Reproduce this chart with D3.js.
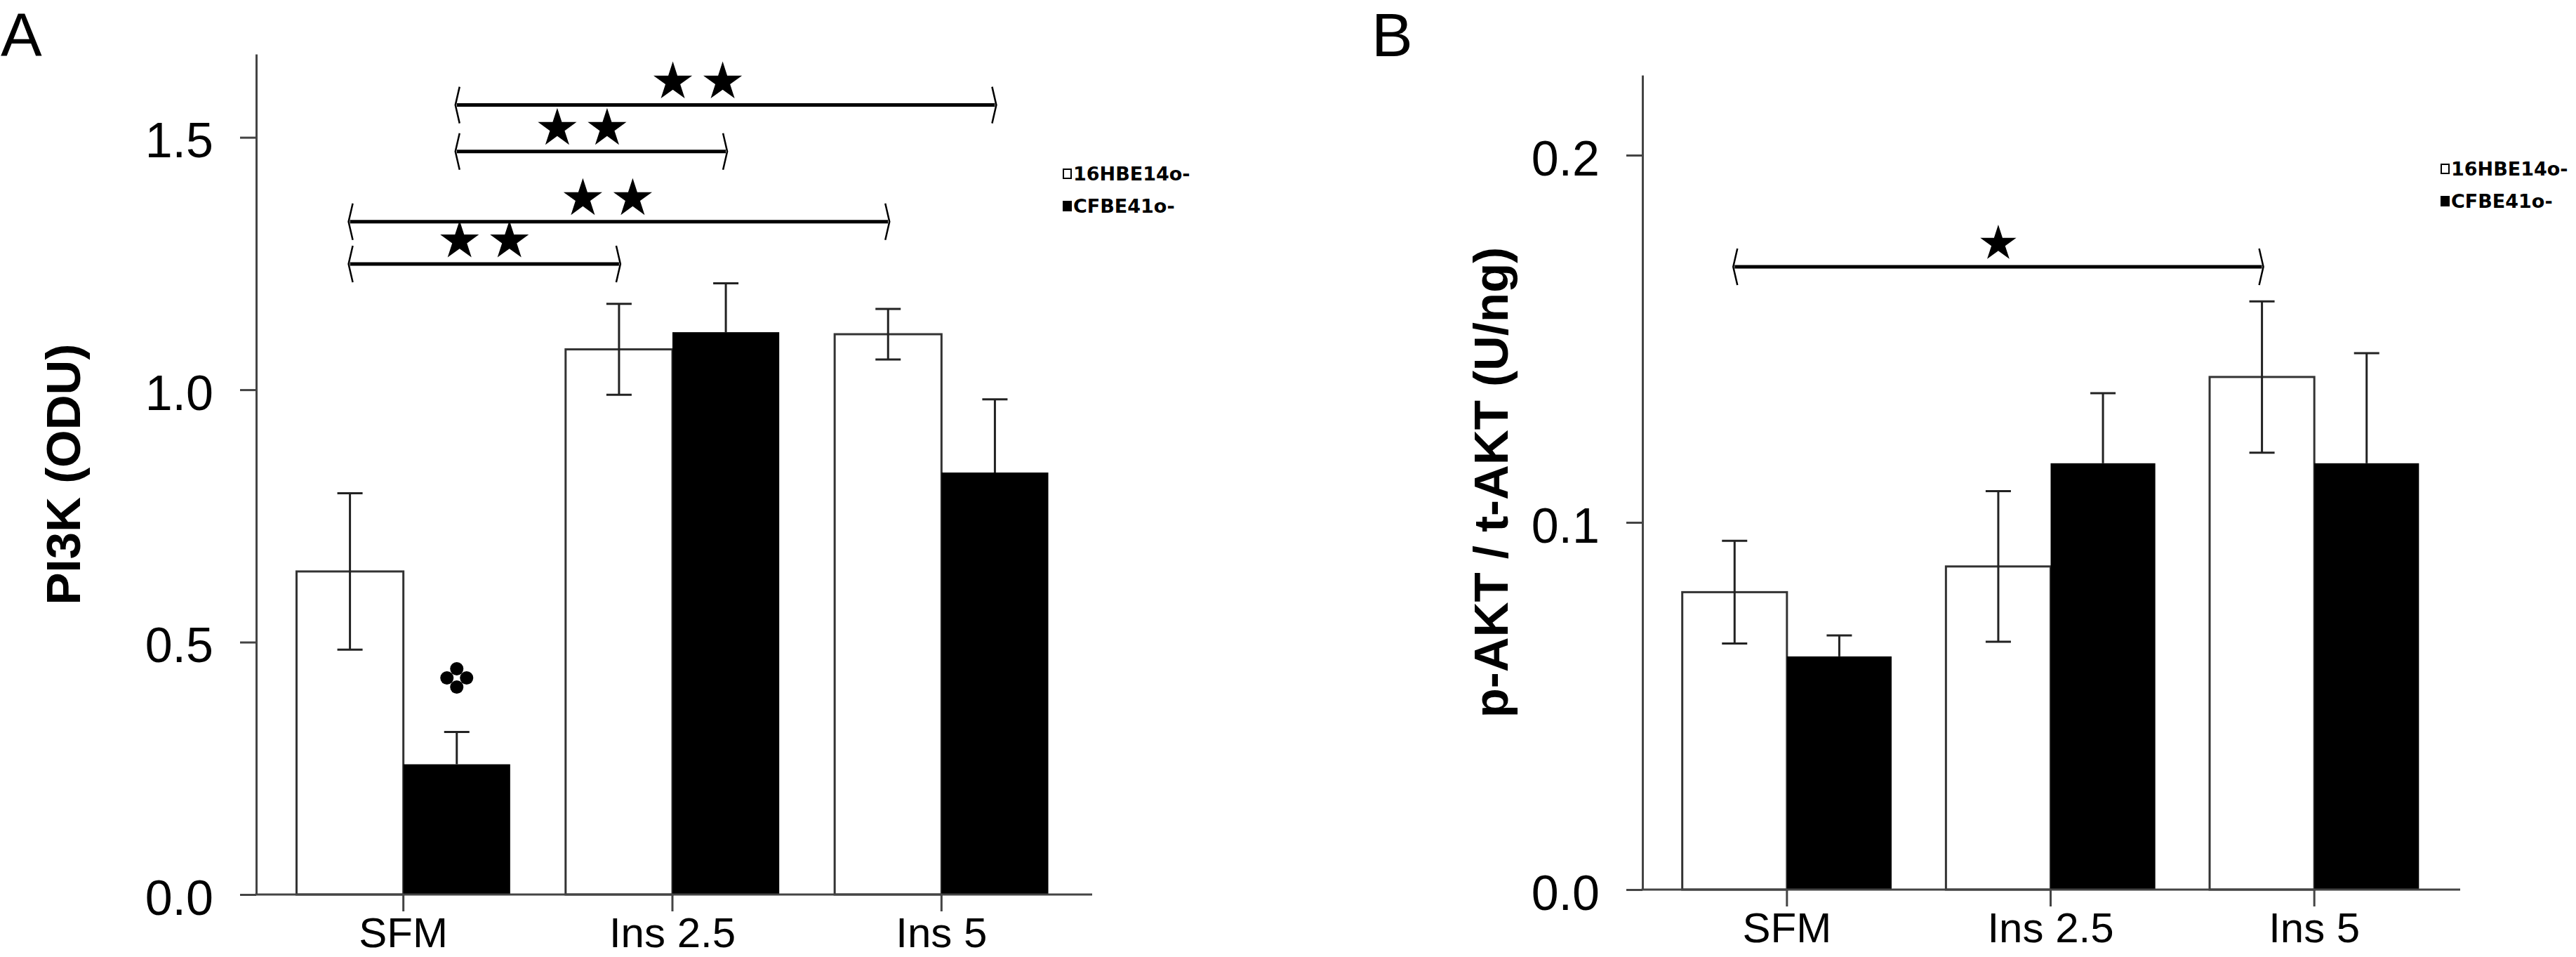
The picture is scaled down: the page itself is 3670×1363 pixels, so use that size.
<!DOCTYPE html>
<html>
<head>
<meta charset="utf-8">
<script src="https://cdn.jsdelivr.net/npm/d3@7"></script>
<style>
  body { margin: 0; background: #fff; }
  svg { display: block; }
</style>
</head>
<body>
<svg id="chart" width="3670" height="1363"></svg>
<script>
// 1. Data
const groups = ["SFM", "Ins 2.5", "Ins 5"];
const cellLines = ["16HBE14o-", "CFBE41o-"];

// Panel A: PI3K (ODU)
const pi3kNormal = [0.640, 1.080, 1.110];
const pi3kNormalErr = [0.155, 0.090, 0.050];
const pi3kCF = [0.258, 1.114, 0.836];
const pi3kCFErr = [0.064, 0.097, 0.145];
const pi3kTicks = [0, 0.5, 1.0, 1.5];
// significance brackets: [group, line] -> [group, line], height (data units), stars
const pi3kSig = [
  { from: [0, 1], to: [2, 1], level: 1.564, stars: 2 },
  { from: [0, 1], to: [1, 1], level: 1.472, stars: 2 },
  { from: [0, 0], to: [2, 0], level: 1.333, stars: 2 },
  { from: [0, 0], to: [1, 0], level: 1.249, stars: 2 }
];
const pi3kMark = [0, 1]; // four-lobed mark above SFM / CFBE41o-

// Panel B: p-AKT / t-AKT (U/ng)
const aktNormal = [0.0810, 0.0880, 0.1396];
const aktNormalErr = [0.0140, 0.0205, 0.0206];
const aktCF = [0.0635, 0.1161, 0.1161];
const aktCFErr = [0.0057, 0.0191, 0.0300];
const aktTicks = [0, 0.1, 0.2];
const aktSig = [
  { from: [0, 0], to: [2, 0], level: 0.1696, stars: 1 }
];

// 2. Setup
const svg = d3.select("#chart");
svg.append("rect").attr("width", 3670).attr("height", 1363).attr("fill", "#fff");

const FONT = "'Liberation Sans', Arial, Helvetica, sans-serif";

function drawPanel(p) {
  const x0 = d3.scaleBand()
    .domain(groups)
    .range(p.xRange)
    .paddingInner(0.206)
    .paddingOuter(0.103);

  const x1 = d3.scaleBand()
    .domain(cellLines)
    .range([0, x0.bandwidth()]);

  const y = d3.scaleLinear()
    .domain([0, p.yMax])
    .range([p.yBase, p.yTop]);

  const rows = groups.flatMap((g, i) => [
    { group: g, line: cellLines[0], v: p.normal[i], e: p.normalErr[i] },
    { group: g, line: cellLines[1], v: p.cf[i], e: p.cfErr[i] }
  ]);
  const isOpen = d => d.line === cellLines[0];
  const barCenter = ([gi, li]) => x0(groups[gi]) + x1(cellLines[li]) + x1.bandwidth() / 2;
  const cx = d => x0(d.group) + x1(d.line) + x1.bandwidth() / 2;

  // bars
  svg.append("g")
    .selectAll("rect")
    .data(rows)
    .join("rect")
      .attr("x", d => x0(d.group) + x1(d.line))
      .attr("y", d => y(d.v))
      .attr("width", x1.bandwidth())
      .attr("height", d => y(0) - y(d.v))
      .attr("fill", d => isOpen(d) ? "#fff" : "#000")
      .attr("stroke", d => isOpen(d) ? "#333" : "none")
      .attr("stroke-width", 3);

  // y axis
  const yAxis = svg.append("g")
    .attr("transform", `translate(${p.axisX},0)`)
    .call(d3.axisLeft(y)
      .tickValues(p.ticks)
      .tickFormat(d3.format(".1f"))
      .tickSize(23)
      .tickSizeOuter(0)
      .tickPadding(38));
  yAxis.select(".domain").attr("stroke", "#444").attr("stroke-width", 3);
  yAxis.selectAll(".tick line").attr("stroke", "#444").attr("stroke-width", 3);
  yAxis.selectAll("text")
    .attr("font-family", FONT)
    .attr("font-size", 70)
    .attr("fill", "#000")
    .attr("dy", "0.4em");

  // x axis (ticks + labels), baseline drawn by hand so it runs from the y axis
  const xAxis = svg.append("g")
    .attr("transform", `translate(0,${p.yBase})`)
    .call(d3.axisBottom(x0).tickSize(24).tickSizeOuter(0).tickPadding(10));
  xAxis.select(".domain").remove();
  xAxis.selectAll(".tick line").attr("stroke", "#444").attr("stroke-width", 3);
  xAxis.selectAll("text")
    .attr("font-family", FONT)
    .attr("font-size", 60)
    .attr("dy", "0.68em")
    .attr("fill", "#000");

  svg.append("line")
    .attr("x1", p.axisX - 1.5).attr("x2", p.axisEnd)
    .attr("y1", y(0)).attr("y2", y(0))
    .attr("stroke", "#444")
    .attr("stroke-width", 3);

  // error bars (filled bars only show the upper half)
  const eb = svg.append("g")
    .attr("stroke", "#222")
    .attr("stroke-width", 3)
    .selectAll("g")
    .data(rows)
    .join("g");
  eb.append("line")
    .attr("x1", cx).attr("x2", cx)
    .attr("y1", d => isOpen(d) ? y(d.v - d.e) : y(d.v))
    .attr("y2", d => y(d.v + d.e));
  eb.append("line")
    .attr("x1", d => cx(d) - 18).attr("x2", d => cx(d) + 18)
    .attr("y1", d => y(d.v + d.e)).attr("y2", d => y(d.v + d.e));
  eb.filter(isOpen).append("line")
    .attr("x1", d => cx(d) - 18).attr("x2", d => cx(d) + 18)
    .attr("y1", d => y(d.v - d.e)).attr("y2", d => y(d.v - d.e));

  // significance brackets
  const sig = svg.append("g");
  p.sig.forEach((s, i) => {
    const xa = barCenter(s.from), xb = barCenter(s.to), yy = y(s.level);
    sig.append("line")
      .attr("x1", xa).attr("x2", xb)
      .attr("y1", yy).attr("y2", yy)
      .attr("stroke", "#000")
      .attr("stroke-width", 5);
    sig.append("path")
      .attr("d", `M${xa + 4},${yy - 26}L${xa - 2},${yy}L${xa + 4},${yy + 26}`)
      .attr("fill", "none").attr("stroke", "#000").attr("stroke-width", 2.5);
    sig.append("path")
      .attr("d", `M${xb - 4},${yy - 26}L${xb + 2},${yy}L${xb - 4},${yy + 26}`)
      .attr("fill", "none").attr("stroke", "#000").attr("stroke-width", 2.5);
    const mid = (xa + xb) / 2 + (p.starShift[i] || 0);
    for (let k = 0; k < s.stars; k++) {
      const sx = mid + (k - (s.stars - 1) / 2) * 71;
      sig.append("path")
        .attr("d", d3.symbol(d3.symbolStar, p.starSize)())
        .attr("transform", `translate(${sx},${yy - 33})`)
        .attr("fill", "#000");
    }
  });

  // four-lobed mark
  if (p.mark) {
    const r = rows.find(d => d.group === groups[p.mark[0]] && d.line === cellLines[p.mark[1]]);
    const mx = barCenter(p.mark), my = y(r.v + r.e) - 77;
    svg.append("g")
      .attr("transform", `translate(${mx},${my})`)
      .selectAll("circle")
      .data([[0, -13], [-14, 0], [14, 0], [0, 13]])
      .join("circle")
        .attr("cx", d => d[0])
        .attr("cy", d => d[1])
        .attr("r", 9.5)
        .attr("fill", "#000");
  }

  // y label
  svg.append("text")
    .attr("transform", `translate(${p.labelX},${(p.yTop + p.yBase) / 2}) rotate(-90)`)
    .attr("text-anchor", "middle")
    .attr("font-family", FONT)
    .attr("font-weight", "bold")
    .attr("font-size", 69)
    .attr("fill", "#000")
    .text(p.yLabel);

  // panel letter
  svg.append("text")
    .attr("x", p.letterX)
    .attr("y", 80)
    .attr("font-family", FONT)
    .attr("font-size", 88)
    .attr("fill", "#000")
    .text(p.letter);

  // legend
  const legend = svg.append("g")
    .attr("transform", `translate(${p.legendX},${p.legendY})`);
  cellLines.forEach((name, i) => {
    const row = legend.append("g").attr("transform", `translate(0,${i * 46})`);
    row.append("rect")
      .attr("x", 1).attr("y", 1)
      .attr("width", 11).attr("height", 13)
      .attr("fill", i === 0 ? "#fff" : "#000")
      .attr("stroke", "#000")
      .attr("stroke-width", 2);
    row.append("text")
      .attr("x", 15)
      .attr("y", 17)
      .attr("font-family", "'DejaVu Sans', sans-serif")
      .attr("font-weight", "bold")
      .attr("font-size", 27)
      .attr("fill", "#000")
      .text(name);
  });
}

// 3. Panels
drawPanel({
  letter: "A", letterX: 1,
  normal: pi3kNormal, normalErr: pi3kNormalErr,
  cf: pi3kCF, cfErr: pi3kCFErr,
  ticks: pi3kTicks, sig: pi3kSig, mark: pi3kMark,
  yLabel: "PI3K (ODU)",
  yMax: 1.665, yTop: 77, yBase: 1274,
  axisX: 365, axisEnd: 1556, xRange: [383, 1533],
  labelX: 114, starSize: 944, starShift: [-40, -13, -16, 0],
  legendX: 1514, legendY: 240
});

drawPanel({
  letter: "B", letterX: 1954,
  normal: aktNormal, normalErr: aktNormalErr,
  cf: aktCF, cfErr: aktCFErr,
  ticks: aktTicks, sig: aktSig, mark: null,
  yLabel: "p-AKT / t-AKT (U/ng)",
  yMax: 0.2218, yTop: 107, yBase: 1267,
  axisX: 2340, axisEnd: 3505, xRange: [2358, 3485],
  labelX: 2148, starSize: 818, starShift: [0],
  legendX: 3477, legendY: 233
});
</script>
</body>
</html>
